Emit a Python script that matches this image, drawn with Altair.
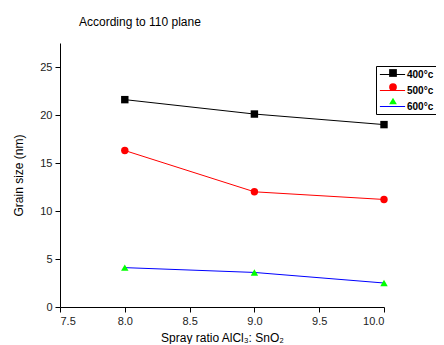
import altair as alt
import pandas as pd

ratios = [8.0, 9.0, 10.0]
series = ["400°c", "500°c", "600°c"]
g400 = [21.6, 20.1, 19.0]
g500 = [16.3, 12.0, 11.2]
g600 = [4.1, 3.6, 2.5]
line_colors = ["#000000", "#ff0000", "#0000ff"]
point_colors = ["#000000", "#ff0000", "#00ff00"]
shapes = ["square", "circle", "triangle-up"]
x_ticks = [7.5, 7.75, 8.0, 8.25, 8.5, 8.75, 9.0, 9.25, 9.5, 9.75, 10.0]
y_ticks = [0, 2.5, 5, 7.5, 10, 12.5, 15, 17.5, 20, 22.5, 25, 27.5]

rows = []
for s, vals in zip(series, [g400, g500, g600]):
    for r, v in zip(ratios, vals):
        rows.append({"ratio": r, "size": v, "series": s, "series_pt": s})
df = pd.DataFrame(rows)

FONT = "Liberation Sans"

x_enc = alt.X(
    "ratio:Q",
    scale=alt.Scale(domain=[7.5, 10.0], nice=False, zero=False),
    axis=alt.Axis(
        values=x_ticks,
        labelExpr="datum.value % 0.5 == 0 ? format(datum.value, '.1f') : ''",
        tickSize={"condition": {"test": "datum.value % 0.5 == 0", "value": 5}, "value": 3},
        title="Spray ratio AlCl₃: SnO₂",
        titlePadding=6,
        grid=False,
    ),
)
y_enc = alt.Y(
    "size:Q",
    scale=alt.Scale(domain=[0, 27.5], nice=False),
    axis=alt.Axis(
        values=y_ticks,
        labelExpr="datum.value % 5 == 0 ? format(datum.value, 'd') : ''",
        tickSize={"condition": {"test": "datum.value % 5 == 0", "value": 5}, "value": 3},
        title="Grain size (nm)",
        titlePadding=14,
        grid=False,
    ),
)

lines = alt.Chart(df).mark_line(strokeWidth=1).encode(
    x=x_enc,
    y=y_enc,
    color=alt.Color(
        "series:N",
        scale=alt.Scale(domain=series, range=line_colors),
        legend=alt.Legend(
            title=None,
            orient="none",
            legendX=316,
            legendY=23,
            symbolType="M-2.1,0H2.1",
            symbolSize=144,
            symbolStrokeWidth=1,
            symbolOffset=8,
            labelOffset=8,
            strokeColor="#000000",
            padding=2,
            labelFont=FONT,
            labelFontSize=10,
            labelFontWeight="bold",
            labelColor="#000000",
            rowPadding=4,
        ),
    ),
)

pt_legend = alt.Legend(
    title=None,
    orient="none",
    legendX=316,
    legendY=23,
    padding=2,
    symbolOffset=10,
    symbolSize=60,
    symbolStrokeWidth=0,
    labelFont=FONT,
    labelFontSize=10,
    labelExpr="''",
    rowPadding=4,
)

points = alt.Chart(df).mark_point(filled=True, size=55, opacity=1).encode(
    x="ratio:Q",
    y="size:Q",
    fill=alt.Fill("series_pt:N", scale=alt.Scale(range=point_colors), legend=pt_legend),
    shape=alt.Shape("series_pt:N", scale=alt.Scale(range=shapes), legend=pt_legend),
)

chart = (
    alt.layer(lines, points)
    .properties(
        width=324,
        height=264,
        title=alt.TitleParams(
            "According to 110 plane",
            anchor="start",
            frame="group",
            dx=19,
            offset=14,
            fontSize=12,
            fontWeight="normal",
            font=FONT,
            color="#000000",
        ),
        autosize=alt.AutoSizeParams(type="none"),
        padding={"left": 52, "top": 35, "right": 52, "bottom": 37},
    )
    .configure_view(stroke=None)
    .configure_axis(
        domainColor="#000000",
        tickColor="#000000",
        labelColor="#222222",
        titleColor="#000000",
        labelFont=FONT,
        titleFont=FONT,
        labelFontSize=11,
        titleFontSize=12,
        titleFontWeight="normal",
        labelPadding=3,
    )
)

chart.save("out.html", embed_options={"renderer": "svg", "actions": False})
